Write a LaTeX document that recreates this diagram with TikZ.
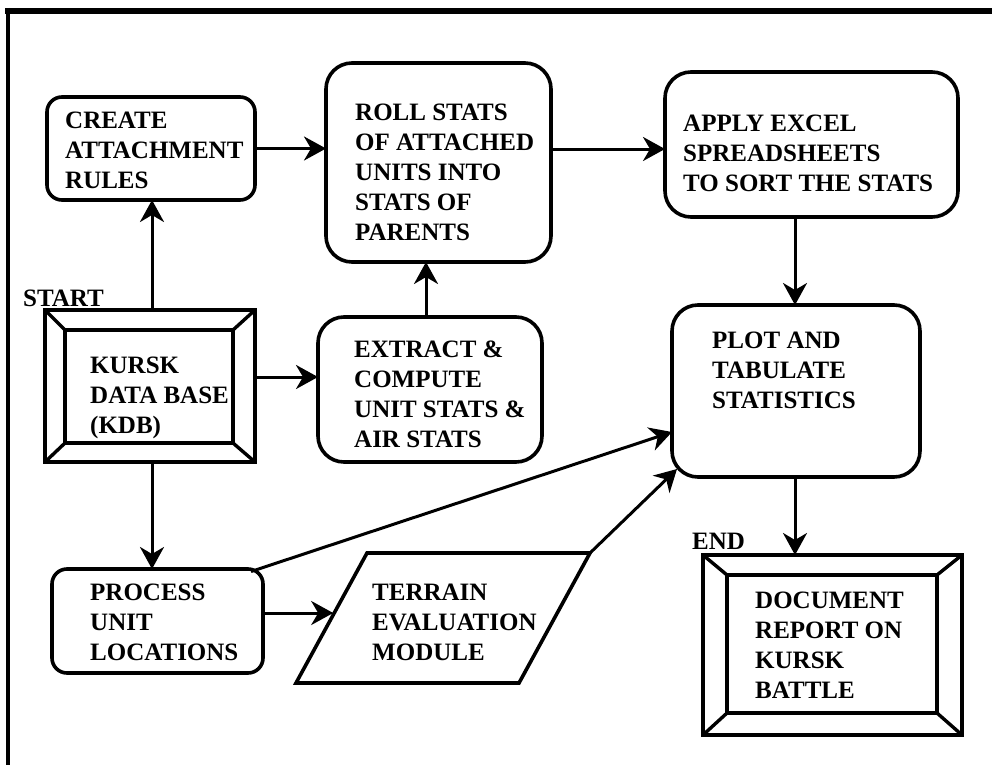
\documentclass[tikz,border=0pt]{standalone}
\usepackage{fontspec}
\setmainfont{Liberation Serif}
\usetikzlibrary{arrows.meta,calc}
\begin{document}
\begin{tikzpicture}[x=1pt,y=-1pt,
  boxline/.style={draw=black,line width=3.6pt},
  rbox/.style={boxline,rounded corners=#1,inner sep=0pt,outer sep=0pt},
  rbox/.default=24pt,
  framebox/.style={draw=black,line width=3.4pt,inner sep=0pt,outer sep=0pt},
  txt/.style={inner sep=0pt,anchor=north west,align=left,font=\fontsize{25}{30}\selectfont\bfseries},
  arr/.style={line width=3pt,-{Stealth[length=22pt,width=24pt,inset=7pt]}},
  rule/.style={line width=3pt}]
\fill[white] (0,0) rectangle (992,765);
\useasboundingbox (0,0) rectangle (992,765);
% page frame (top and left only)
\draw[line width=6pt] (5,11) -- (992,11);
\draw[line width=4pt] (8,8) -- (8,765);

% boxes
\node[rbox=15pt, minimum width=208pt, minimum height=103pt] (create) at (151,148.5) {};
\node[rbox=26pt, minimum width=225pt, minimum height=199pt] (roll) at (438.5,162.5) {};
\node[rbox=26pt, minimum width=293pt, minimum height=145pt] (apply) at (811.5,144.5) {};
\node[rbox=26pt, minimum width=224pt, minimum height=145pt] (extract) at (430,389.5) {};
\node[rbox=26pt, minimum width=248pt, minimum height=172pt] (plot) at (796,391) {};
\node[rbox=15pt, minimum width=211pt, minimum height=104pt] (process) at (157.5,621) {};

% KDB beveled frame
\node[framebox, minimum width=210pt, minimum height=152pt] (kdb) at (150,386) {};
\coordinate (kdbi1) at (65,330);
\coordinate (kdbi2) at (233,330);
\coordinate (kdbi3) at (233,443);
\coordinate (kdbi4) at (65,443);
\draw[framebox] (kdbi1) -- (kdbi2) -- (kdbi3) -- (kdbi4) -- cycle;
\draw[framebox] (kdb.north west) -- (kdbi1) (kdb.north east) -- (kdbi2)
  (kdb.south east) -- (kdbi3) (kdb.south west) -- (kdbi4);

% END beveled frame
\node[framebox, minimum width=259pt, minimum height=180pt] (endf) at (832.5,645) {};
\coordinate (endi1) at (727,575);
\coordinate (endi2) at (937,575);
\coordinate (endi3) at (937,713);
\coordinate (endi4) at (727,713);
\draw[framebox] (endi1) -- (endi2) -- (endi3) -- (endi4) -- cycle;
\draw[framebox] (endf.north west) -- (endi1) (endf.north east) -- (endi2)
  (endf.south east) -- (endi3) (endf.south west) -- (endi4);

% Terrain parallelogram
\coordinate (tsw) at (296,683);
\coordinate (tnw) at (367,553);
\coordinate (tne) at (590,553);
\coordinate (tse) at (519,683);
\draw[boxline, line join=miter] (tsw) -- (tnw) -- (tne) -- (tse) -- cycle;
\coordinate (tw) at (333.2,613);

% texts
\node[txt] (create-t) at (65,112) {CREATE\\ATTACHMENT\\RULES};
\node[txt] (roll-t) at (355,104) {ROLL STATS\\OF ATTACHED\\UNITS INTO\\STATS OF\\PARENTS};
\node[txt] (apply-t) at (683,115) {APPLY EXCEL\\SPREADSHEETS\\TO SORT THE STATS};
\node[txt] (kdb-t) at (90,357) {KURSK\\DATA BASE\\(KDB)};
\node[txt] (extract-t) at (354,341) {EXTRACT \&\\COMPUTE\\UNIT STATS \&\\AIR STATS};
\node[txt] (plot-t) at (712,332) {PLOT AND\\TABULATE\\STATISTICS};
\node[txt] (process-t) at (90,584) {PROCESS\\UNIT\\LOCATIONS};
\node[txt] (terrain-t) at (372,584) {TERRAIN\\EVALUATION\\MODULE};
\node[txt] (end-t) at (755,592) {DOCUMENT\\REPORT ON\\KURSK\\BATTLE};
\node[txt] (start-l) at (23,290) {START};
\node[txt] (end-l) at (692,533) {END};

% connectors
\coordinate (cx1) at (152,0);
\coordinate (cy3) at (0,149);
\coordinate (cy4) at (0,377);
\coordinate (cx5) at (426,0);
\coordinate (cx6) at (795,0);
\coordinate (cy9) at (0,613);
\coordinate (cy10) at (0,432);
\draw[arr] (kdb.north -| cx1) -- (create.south -| cx1);
\draw[arr] (create.east) -- (create.east -| roll.west);
\draw[arr] (roll.east |- cy3) -- (apply.west |- cy3);
\draw[arr] (kdb.east |- cy4) -- (extract.west |- cy4);
\draw[arr] (extract.north -| cx5) -- (roll.south -| cx5);
\draw[arr] (apply.south -| cx6) -- (plot.north -| cx6);
\draw[arr] (plot.south -| cx6) -- (endf.north -| cx6);
\draw[arr] (kdb.south -| cx1) -- (process.north -| cx1);
\draw[arr] (process.east |- cy9) -- (tw);
\draw[arr] ($(process.north east)+(-12,2.5)$) -- (plot.west |- cy10);
\draw[arr] (tne) -- ($(plot.south west)+(5,-8)$);
\end{tikzpicture}
\end{document}
